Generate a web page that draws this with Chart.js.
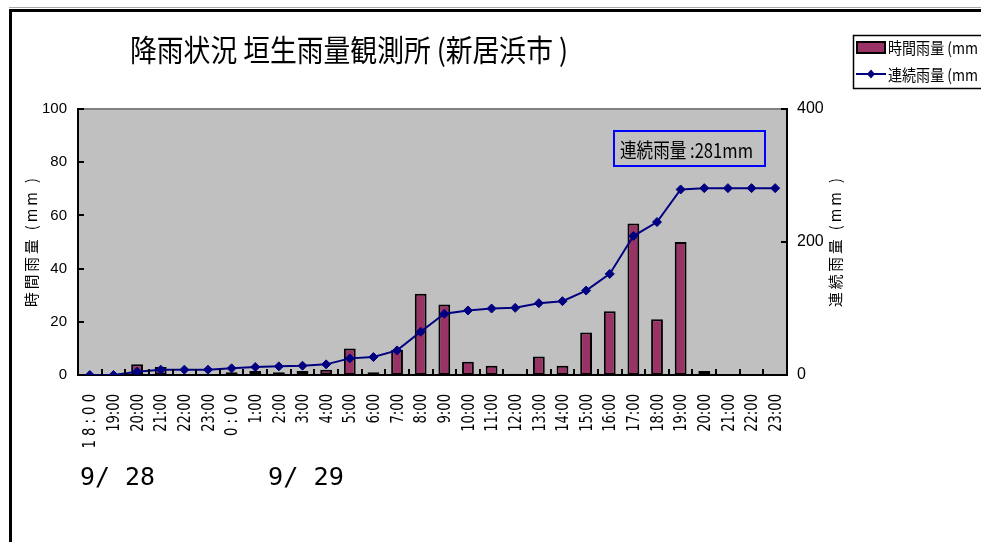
<!DOCTYPE html>
<html>
<head>
<meta charset="utf-8">
<script src="https://cdn.jsdelivr.net/npm/chart.js@4"></script>
<style>
  html, body { margin: 0; padding: 0; background: #fff; }
  #wrap { width: 981px; height: 542px; }
</style>
</head>
<body>
<div id="wrap"><canvas id="c" width="981" height="542"></canvas></div>
<script>
// hours from 9/28 18:00 to 9/29 23:00
const hours = ['1 8 : 0 0', '19:00', '20:00', '21:00', '22:00', '23:00',
  '0 : 0 0', '1:00', '2:00', '3:00', '4:00', '5:00', '6:00', '7:00', '8:00', '9:00',
  '10:00', '11:00', '12:00', '13:00', '14:00', '15:00', '16:00', '17:00', '18:00',
  '19:00', '20:00', '21:00', '22:00', '23:00'];

// hourly rainfall (mm), left axis
const hourlyRain = [0, 0, 4, 3, 0, 0, 1, 1.5, 1, 1.5, 2, 10, 1, 9.5, 30.5, 26.5,
  5, 3.5, 0.5, 7, 3.5, 16, 24, 57, 21, 50, 1.5, 0, 0, 0];

// continuous rainfall (mm), right axis
const totalRain = [0, 0, 5, 8, 8, 8, 10, 12, 13, 14, 16, 25, 27, 37, 65, 92,
  97, 100, 101, 108, 111, 127, 152, 209, 230, 279, 281, 281, 281, 281];

const leftTicks = [0, 20, 40, 60, 80, 100];
const rightTicks = [0, 200, 400];
const dateLabels = ['9/ 28', '9/ 29'];

const jpFont = '"Noto Sans CJK JP", "Noto Sans", sans-serif';
const numFont = '"Liberation Sans", Arial, sans-serif';

// draw text squeezed along its length, optionally rotated
function squeezeText(ctx, text, x, y, font, len, rot, spacing, align) {
  ctx.save();
  ctx.font = font;
  if (spacing) ctx.letterSpacing = spacing;
  const w = ctx.measureText(text).width;
  const sx = typeof len === 'number' && len > 5 ? len / w : (len || 1);
  ctx.translate(x, y);
  if (rot) ctx.rotate(rot);
  ctx.scale(sx, 1);
  ctx.fillStyle = '#000';
  ctx.textAlign = 'left';
  ctx.textBaseline = 'middle';
  let sx0 = 0;
  if (align === 'center') sx0 = -w / 2;
  else if (align === 'right') sx0 = -w;
  ctx.fillText(text, sx0, 0);
  ctx.restore();
}

const decor = {
  id: 'decor',
  beforeDraw(chart) {
    const ctx = chart.ctx;
    const a = chart.chartArea;
    ctx.save();
    ctx.fillStyle = '#fff';
    ctx.fillRect(0, 0, chart.width, chart.height);
    // outer frame
    ctx.strokeStyle = '#aaa';
    ctx.lineWidth = 1;
    ctx.beginPath(); ctx.moveTo(9, 7.5); ctx.lineTo(981, 7.5); ctx.stroke();
    ctx.strokeStyle = '#000';
    ctx.lineWidth = 3;
    ctx.beginPath();
    ctx.moveTo(10.5, 542); ctx.lineTo(10.5, 10.5); ctx.lineTo(981, 10.5);
    ctx.stroke();
    // plot background
    ctx.fillStyle = '#c0c0c0';
    ctx.fillRect(a.left, a.top, a.right - a.left, a.bottom - a.top);
    ctx.strokeStyle = '#808080';
    ctx.lineWidth = 2;
    ctx.beginPath(); ctx.moveTo(a.left, a.top); ctx.lineTo(a.right, a.top); ctx.stroke();
    ctx.restore();
  },
  afterDraw(chart) {
    const ctx = chart.ctx;
    const a = chart.chartArea;
    const x = chart.scales.x, y = chart.scales.y, y1 = chart.scales.y1;
    ctx.save();
    ctx.strokeStyle = '#000';
    ctx.lineWidth = 2;
    ctx.beginPath();
    // inward tick marks
    leftTicks.forEach(v => {
      const py = Math.round(y.getPixelForValue(v));
      ctx.moveTo(a.left, py); ctx.lineTo(a.left + 6, py);
    });
    rightTicks.forEach(v => {
      const py = Math.round(y1.getPixelForValue(v));
      ctx.moveTo(a.right, py); ctx.lineTo(a.right - 6, py);
    });
    const step = (a.right - a.left) / hours.length;
    for (let i = 1; i < hours.length; i++) {
      const px = Math.round(a.left + i * step);
      ctx.moveTo(px, a.bottom); ctx.lineTo(px, a.bottom - 6);
    }
    ctx.stroke();

    // hour labels, narrow and upright-rotated
    hours.forEach((h, i) => {
      const px = x.getPixelForValue(i);
      squeezeText(ctx, h, px + 1, a.bottom + 19, '18px "DejaVu Sans", sans-serif', 0.73, -Math.PI / 2, null, 'right');
    });

    // title
    squeezeText(ctx, '降雨状況 垣生雨量観測所 (新居浜市 )', 130, 50, '30px ' + jpFont, 438);

    // axis titles, reading bottom to top
    squeezeText(ctx, '時間雨量 (mm )', 31, 241, '15px ' + jpFont, 132, -Math.PI / 2, '3px', 'center');
    squeezeText(ctx, '連続雨量 (mm )', 835, 241, '15px ' + jpFont, 132, -Math.PI / 2, '3px', 'center');

    // dates under the hour labels
    squeezeText(ctx, dateLabels[0], 80, 479, '24px "DejaVu Sans Mono", monospace', 75);
    squeezeText(ctx, dateLabels[1], 268, 479, '24px "DejaVu Sans Mono", monospace', 76);

    // total rainfall note
    ctx.fillStyle = '#c0c0c0';
    ctx.fillRect(614, 131, 151, 35);
    ctx.strokeStyle = '#0000ff';
    ctx.lineWidth = 2;
    ctx.strokeRect(614, 131, 151, 35);
    squeezeText(ctx, '連続雨量 :281mm', 620, 150, '20px ' + jpFont, 133);

    // legend
    ctx.fillStyle = '#fff';
    ctx.fillRect(853, 35, 140, 53);
    ctx.strokeStyle = '#000';
    ctx.lineWidth = 1.5;
    ctx.strokeRect(853.5, 35.5, 140, 53);
    ctx.fillStyle = '#993366';
    ctx.fillRect(857, 42, 28, 11);
    ctx.lineWidth = 2;
    ctx.strokeRect(857, 42, 28, 11);
    ctx.strokeStyle = '#000080';
    ctx.beginPath(); ctx.moveTo(856, 74); ctx.lineTo(886, 74); ctx.stroke();
    ctx.fillStyle = '#000080';
    ctx.beginPath();
    ctx.moveTo(871, 69.5); ctx.lineTo(875, 74); ctx.lineTo(871, 78.5); ctx.lineTo(867, 74);
    ctx.closePath(); ctx.fill();
    squeezeText(ctx, '時間雨量 (mm )', 888, 48, '16px ' + jpFont, 98);
    squeezeText(ctx, '連続雨量 (mm )', 888, 75, '16px ' + jpFont, 98);
    ctx.restore();
  }
};

new Chart(document.getElementById('c'), {
  data: {
    labels: hours,
    datasets: [
      {
        type: 'line',
        label: '連続雨量 (mm )',
        data: totalRain,
        yAxisID: 'y1',
        order: 0,
        borderColor: '#000080',
        borderWidth: 2,
        backgroundColor: '#000080',
        pointStyle: 'rectRot',
        pointRadius: 4.5,
        pointBorderWidth: 1,
        pointBackgroundColor: '#000080',
        pointBorderColor: '#000080',
        tension: 0
      },
      {
        type: 'bar',
        label: '時間雨量 (mm )',
        data: hourlyRain,
        yAxisID: 'y',
        order: 1,
        backgroundColor: '#993366',
        borderColor: '#000',
        borderWidth: 2,
        borderSkipped: false,
        categoryPercentage: 1,
        barPercentage: 0.5
      }
    ]
  },
  options: {
    responsive: false,
    animation: false,
    layout: { padding: { left: 0, top: 109, right: 134, bottom: 0 } },
    plugins: { legend: { display: false }, title: { display: false }, tooltip: { enabled: false } },
    scales: {
      x: {
        offset: true,
        grid: { display: false, drawTicks: false },
        border: { display: true, color: '#000', width: 2 },
        ticks: { display: false, autoSkip: false },
        afterFit: s => { s.height = 167; }
      },
      y: {
        position: 'left',
        min: 0,
        max: 100,
        grid: { display: false, drawTicks: false },
        border: { display: true, color: '#000', width: 2 },
        ticks: {
          stepSize: 20,
          color: '#000',
          font: { family: numFont, size: 15 },
          padding: 11
        },
        afterFit: s => { s.width = 78; }
      },
      y1: {
        position: 'right',
        min: 0,
        max: 400,
        grid: { display: false, drawTicks: false },
        border: { display: true, color: '#000', width: 2 },
        ticks: {
          stepSize: 200,
          color: '#000',
          font: { family: numFont, size: 16 },
          padding: 10
        },
        afterFit: s => { s.width = 60; }
      }
    }
  },
  plugins: [decor]
});
</script>
</body>
</html>
